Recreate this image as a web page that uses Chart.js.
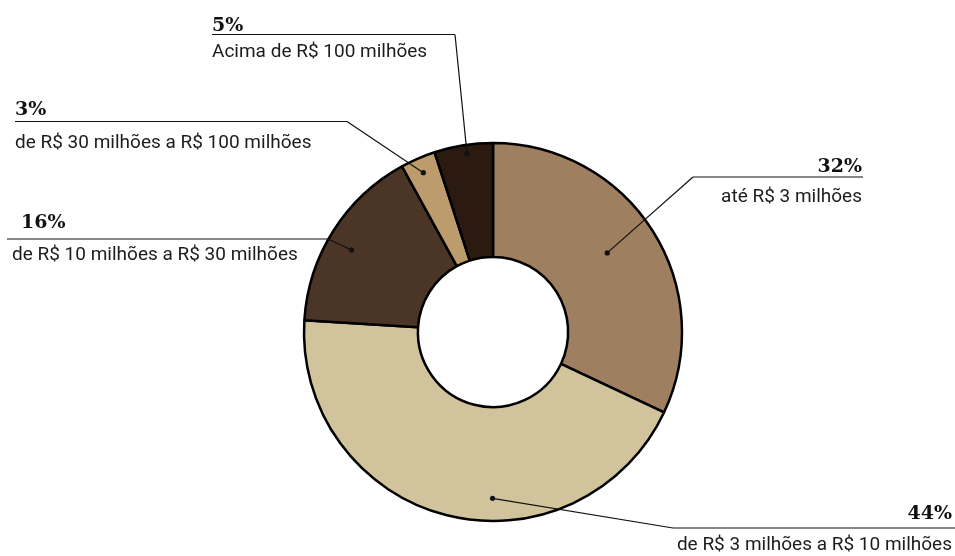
<!DOCTYPE html>
<html>
<head>
<meta charset="utf-8">
<script src="https://cdn.jsdelivr.net/npm/chart.js@4"></script>
<style>
  html, body { margin: 0; padding: 0; background: #fff; }
  #wrap { width: 955px; height: 556px; }
</style>
</head>
<body>
<div id="wrap"><canvas id="grafico"></canvas></div>
<script>
const categorias = [
  "até R$ 3 milhões",
  "de R$ 3 milhões a R$ 10 milhões",
  "de R$ 10 milhões a R$ 30 milhões",
  "de R$ 30 milhões a R$ 100 milhões",
  "Acima de R$ 100 milhões"
];
const valores = [32, 44, 16, 3, 5];
const cores = ["#9e7f5f", "#d1c49d", "#4a3526", "#bc9c6c", "#2a1a0f"];

// onde fica cada rótulo (px) e o ponto dentro da fatia
const rotulos = [
  { lado: "dir", x: 862, linhaY: 177, ini: 693, fim: 863, pctY: 172, txtY: 202, t: 0.48, r: 0.735 },
  { lado: "dir", x: 952, linhaY: 528, ini: 673, fim: 955, pctY: 519, txtY: 550, t: 0.41, r: 0.88 },
  { lado: "esq", x: 12, pctX: 21, linhaY: 239, ini: 7, fim: 328, pctY: 228, txtY: 260, t: 0.46, r: 0.865 },
  { lado: "esq", x: 15, pctX: 15, linhaY: 121.5, ini: 15, fim: 347, pctY: 115, txtY: 148, t: 0.48, r: 0.92 },
  { lado: "esq", x: 212, pctX: 212, linhaY: 34.5, ini: 212, fim: 455, pctY: 31, txtY: 57, t: 0.54, r: 0.955 }
];

const fonteTexto = "19px Roboto";
const fontePct = "bold 19px 'DejaVu Serif'";

const rotulosPlugin = {
  id: "rotulos",
  afterDatasetsDraw(chart) {
    const ctx = chart.ctx;
    const arcos = chart.getDatasetMeta(0).data;
    ctx.save();
    arcos.forEach((arco, i) => {
      const cfg = rotulos[i];
      const p = arco.getProps(["x", "y", "startAngle", "endAngle", "outerRadius"], true);
      const ang = p.startAngle + cfg.t * (p.endAngle - p.startAngle);
      const px = p.x + Math.cos(ang) * p.outerRadius * cfg.r;
      const py = p.y + Math.sin(ang) * p.outerRadius * cfg.r;
      const cotovelo = cfg.lado === "dir" ? cfg.ini : cfg.fim;

      ctx.strokeStyle = "#111";
      ctx.lineWidth = 1.2;
      ctx.beginPath();
      ctx.moveTo(px, py);
      ctx.lineTo(cotovelo, cfg.linhaY);
      ctx.stroke();
      ctx.beginPath();
      ctx.moveTo(cfg.ini, cfg.linhaY);
      ctx.lineTo(cfg.fim, cfg.linhaY);
      ctx.stroke();

      ctx.fillStyle = "#111";
      ctx.beginPath();
      ctx.arc(px, py, 2.6, 0, Math.PI * 2);
      ctx.fill();

      ctx.textBaseline = "alphabetic";
      ctx.textAlign = cfg.lado === "dir" ? "right" : "left";
      ctx.font = fontePct;
      ctx.fillText(valores[i] + "%", cfg.lado === "dir" ? cfg.x : cfg.pctX, cfg.pctY);
      ctx.font = fonteTexto;
      ctx.fillStyle = "#1c1c1c";
      ctx.fillText(categorias[i], cfg.x, cfg.txtY);
    });
    ctx.restore();
  }
};

new Chart(document.getElementById("grafico"), {
  type: "doughnut",
  data: {
    labels: categorias,
    datasets: [{
      data: valores,
      backgroundColor: cores,
      borderColor: "#000",
      borderWidth: 2.5
    }]
  },
  options: {
    responsive: true,
    maintainAspectRatio: false,
    animation: false,
    radius: 189,
    cutout: 75,
    layout: { padding: { left: 303, right: 272, top: 142, bottom: 34 } },
    plugins: {
      legend: { display: false },
      tooltip: { enabled: false }
    }
  },
  plugins: [rotulosPlugin]
});
</script>
</body>
</html>
